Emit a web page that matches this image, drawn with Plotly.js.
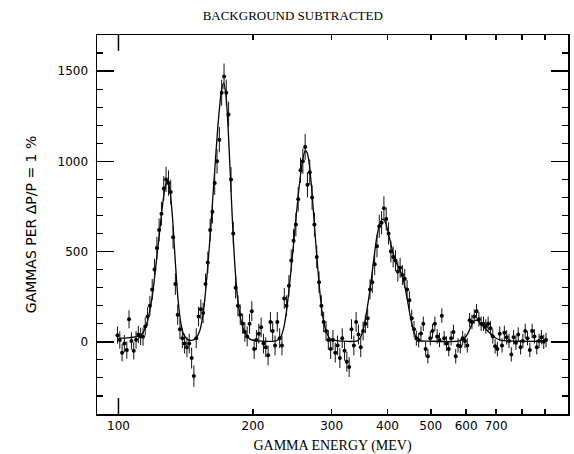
<!DOCTYPE html>
<html>
<head>
<meta charset="utf-8">
<script src="https://cdn.plot.ly/plotly-3.0.1.min.js"></script>
<style>html,body{margin:0;padding:0;background:#fff;}#chart{width:574px;height:454px;}</style>
</head>
<body>
<div id="chart"></div>
<script>
// Measured photon spectrum (MeV), background subtracted
var energyMeV = [
  99.5, 100.7, 101.9, 103.1, 104.4, 105.6, 106.9, 108.2, 109.5, 110.8, 112.1, 113.5, 114.8, 116.2, 117.6,
  119.0, 120.4, 121.9, 123.3, 124.8, 126.3, 127.8, 129.4, 130.9, 132.5, 134.1, 135.7, 137.3,
  139.0, 140.6, 142.3, 144.0, 145.8, 147.5, 149.3, 151.1, 152.9, 154.7, 156.6, 158.5, 160.4, 162.3, 164.2,
  166.2, 168.2, 170.2, 172.3, 174.3, 176.4, 178.6, 180.7, 182.9, 185.1, 187.3, 189.6, 191.8, 194.1,
  196.5, 198.8, 201.2, 203.6, 206.1, 208.6, 211.1, 213.6, 216.2, 218.8, 221.4, 224.1, 226.7, 229.5, 232.2,
  235.0, 237.8, 240.7, 243.6, 246.5, 249.5, 252.5, 255.5, 258.6, 261.7, 264.8, 268.0, 271.2, 274.5, 277.8,
  281.1, 284.5, 287.9, 291.4, 294.9,
  298.4, 302.0, 305.6, 309.3, 313.0, 316.8, 320.6, 324.4, 328.3, 332.3, 336.3, 340.3, 344.4, 348.5,
  352.7, 356.9, 361.2, 365.5, 369.9, 374.4, 378.9, 383.4, 388.0, 392.7, 397.4, 402.2, 407.0, 411.9,
  416.8, 421.8, 426.9, 432.0, 437.2, 442.5, 447.8, 453.2, 458.6, 464.1,
  469.7, 475.3, 481.0, 486.8, 492.6, 498.6, 504.5, 510.6, 516.7, 522.9, 529.2, 535.6, 542.0, 548.5, 555.1,
  561.8, 568.5, 575.3, 582.2, 589.2, 596.3, 603.5, 610.7, 618.0, 625.4, 632.9, 640.5, 648.2, 656.0, 663.9,
  671.9, 679.9, 688.1, 696.4, 704.7, 713.2, 721.7, 730.4, 739.2, 748.1, 757.0, 766.1, 775.3, 784.6, 794.1,
  803.6, 813.2, 823.0, 832.9, 842.9, 853.0, 863.2, 873.6, 884.1, 894.7, 905.4
];
var gammas = [
  37, 10, -60, -10, -46, 125, 5, -50, 11, 40, 30, 28, 85, 140, 200,
  290, 400, 520, 620, 710, 850, 900, 880, 830, 580, 320, 150, 70,
  20, -10, -30, -10, -90, -190, 20, 140, 180, 160, 320, 440, 620, 720, 880,
  1000, 1120, 1380, 1470, 1380, 1260, 900, 600, 300, 200, 150, 100, 55, 30,
  100, 170, -40, 10, 45, 80, -10, -30, -75, 110, 60, -20, 110, 20, -20,
  240, 200, 310, 450, 560, 650, 790, 950, 1000, 1080, 870, 940, 800, 650, 470,
  330, 200, 110, 60, 10,
  -40, 10, -60, -20, -90, 20, -50, -110, -140, 70, -20, 110, 40, -30,
  60, 100, 130, 290, 330, 430, 530, 640, 660, 740, 680, 600, 500, 470,
  450, 390, 410, 370, 350, 290, 230, 130, 70, 20,
  9, 46, 100, -40, -80, 20, 60, 100, 30, 10, 145, 20, -10, -40, 20,
  55, -80, -20, -25, 20, 5, -20, 120, 110, 140, 170, 125, 100, 100, 85,
  100, 75, 30, -25, -40, 45, -20, 50, 25, 5, -70, 25, -5, 40, -30,
  5, 60, 20, -45, 60, 30, -30, 5, 25, 0, 10
];
var gammaErr = [
  48, 48, 48, 48, 48, 50, 48, 48, 48, 48, 48, 50, 50, 52, 55,
  58, 60, 62, 64, 66, 68, 70, 70, 68, 64, 60, 56, 55,
  55, 55, 55, 55, 58, 60, 55, 55, 55, 56, 58, 60, 62, 64, 66,
  68, 70, 72, 72, 72, 70, 68, 64, 60, 58, 56, 55, 55, 55,
  55, 55, 55, 55, 55, 55, 55, 55, 55, 55, 55, 55, 55, 55, 55,
  58, 58, 60, 62, 64, 66, 68, 70, 70, 72, 70, 70, 68, 66, 63,
  60, 58, 56, 55, 55,
  55, 55, 55, 55, 55, 55, 55, 55, 55, 55, 55, 55, 55, 55,
  52, 52, 54, 56, 58, 60, 62, 64, 64, 66, 64, 62, 60, 58,
  58, 56, 56, 55, 54, 52, 50, 48, 45, 42,
  40, 40, 40, 40, 40, 40, 40, 40, 40, 40, 40, 40, 40, 40, 40,
  40, 40, 40, 40, 40, 40, 40, 40, 40, 40, 40, 40, 40, 40, 40,
  40, 40, 40, 40, 40, 40, 40, 40, 40, 40, 40, 40, 40, 40, 40,
  40, 40, 40, 40, 40, 40, 40, 40, 40, 40, 40
];

// Fitted curve
var fitEnergy = [
  100, 105, 110, 113, 116, 119, 122, 125, 127, 128.5, 130, 132, 134, 136, 138, 140, 143, 146, 149,
  152, 155, 158, 161, 164, 167, 170, 172, 174, 176, 178, 180, 182, 185, 188, 192, 197, 205, 225,
  230, 234, 238, 242, 246, 250, 254, 258, 262, 265, 268, 271, 275, 279, 283, 287, 292, 298, 310,
  342, 348, 354, 360, 366, 372, 378, 384, 390, 396, 402, 408, 414, 420, 426, 432, 438, 444, 450,
  456, 462, 470, 500, 580, 595, 605, 615, 625, 633, 642, 655, 670, 685, 700, 720, 780, 910
];
var fitGammas = [
  20, 22, 30, 45, 110, 250, 480, 720, 850, 890, 860, 700, 450, 230, 100, 40, 12, 8, 20,
  60, 170, 380, 640, 930, 1200, 1390, 1435, 1370, 1180, 920, 660, 440, 230, 120, 50, 15, 5, 5,
  20, 70, 180, 340, 520, 700, 870, 1000, 1060, 1040, 960, 830, 620, 420, 250, 130, 55, 15, 5,
  5, 25, 80, 180, 300, 440, 570, 650, 680, 660, 600, 530, 470, 430, 400, 360, 300, 220, 140,
  75, 30, 8, 3, 5, 20, 45, 85, 115, 120, 110, 85, 60, 40, 20, 8, 3, 3
];

var xTickVals = [100, 200, 300, 400, 500, 600, 700, 800, 900];
var xTickText = ['100', '200', '300', '400', '500', '600', '700', '', ''];
var yTickVals = [0, 500, 1000, 1500];

var fitTrace = {
  x: fitEnergy, y: fitGammas, type: 'scatter', mode: 'lines',
  line: {color: '#000', width: 1.3, shape: 'spline', smoothing: 0.7},
  hoverinfo: 'skip'
};
var dataTrace = {
  x: energyMeV, y: gammas, type: 'scatter', mode: 'markers',
  marker: {color: '#000', size: 4},
  error_y: {type: 'data', array: gammaErr, visible: true, color: '#111', thickness: 1, width: 0}
};

var layout = {
  width: 574, height: 454,
  margin: {l: 97, r: 6, t: 35, b: 40},
  paper_bgcolor: '#fff', plot_bgcolor: '#fff',
  showlegend: false, hovermode: false,
  title: {
    text: 'BACKGROUND SUBTRACTED',
    font: {family: 'Liberation Serif, serif', size: 13, color: '#000'},
    xref: 'container', x: 0.51, xanchor: 'center',
    yref: 'container', y: 0.967, yanchor: 'middle'
  },
  xaxis: {
    type: 'log', range: [1.952, 3.006],
    tickmode: 'array', tickvals: xTickVals, ticktext: xTickText,
    ticks: 'inside', ticklen: 5, tickwidth: 1.5, tickcolor: '#000',
    showline: true, linecolor: '#000', linewidth: 1.5, mirror: 'allticks',
    showgrid: false, zeroline: false,
    tickfont: {family: 'DejaVu Sans, sans-serif', size: 12, color: '#000'},
    title: {text: 'GAMMA ENERGY (MEV)', standoff: 8,
            font: {family: 'Liberation Serif, serif', size: 14, color: '#000'}}
  },
  yaxis: {
    range: [-400, 1700],
    tickmode: 'array', tickvals: yTickVals,
    ticks: 'inside', ticklen: 17, tickwidth: 1.5, tickcolor: '#000',
    minor: {tickmode: 'linear', tick0: 0, dtick: 100, ticks: 'inside', ticklen: 6, tickwidth: 1.2, tickcolor: '#000', showgrid: false},
    showline: true, linecolor: '#000', linewidth: 1.5, mirror: 'allticks',
    showgrid: false, zeroline: false,
    ticklabelstandoff: 5,
    tickfont: {family: 'DejaVu Sans, sans-serif', size: 12, color: '#000'},
    title: {text: 'GAMMAS PER \u0394P/P = 1 %', standoff: 17,
            font: {family: 'DejaVu Sans, sans-serif', size: 14, color: '#000'}}
  },
  shapes: [
    {type: 'line', xref: 'x', yref: 'paper', x0: 100, x1: 100, y0: 0, y1: 0.042, line: {color: '#000', width: 1.5}},
    {type: 'line', xref: 'x', yref: 'paper', x0: 100, x1: 100, y0: 1, y1: 0.958, line: {color: '#000', width: 1.5}}
  ]
};

Plotly.newPlot('chart', [fitTrace, dataTrace], layout, {staticPlot: true, displayModeBar: false});
</script>
</body>
</html>
